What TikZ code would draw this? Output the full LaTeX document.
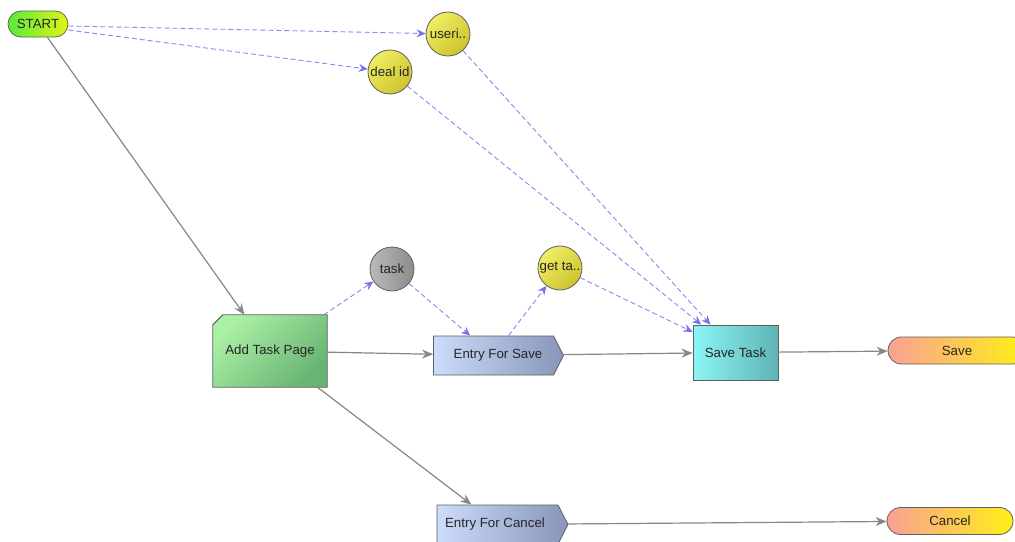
\documentclass[tikz,border=0pt]{standalone}
\usepackage{fontspec}
\setmainfont{Liberation Sans}
\usetikzlibrary{arrows.meta,shapes.symbols,shapes.misc}

\definecolor{flowgray}{RGB}{135,135,135}
\definecolor{dataline}{RGB}{115,115,240}
\definecolor{nodeborder}{RGB}{95,95,95}
\definecolor{startL}{RGB}{90,235,60}
\definecolor{startR}{RGB}{225,245,20}
\definecolor{pageA}{RGB}{170,240,165}
\definecolor{pageB}{RGB}{105,180,115}
\definecolor{entryA}{RGB}{205,220,250}
\definecolor{entryB}{RGB}{135,150,185}
\definecolor{actA}{RGB}{140,245,245}
\definecolor{actB}{RGB}{95,180,180}
\definecolor{endA}{RGB}{250,160,150}
\definecolor{endB}{RGB}{255,240,20}
\definecolor{varA}{RGB}{240,238,100}
\definecolor{varB}{RGB}{205,195,45}
\definecolor{varGrayA}{RGB}{185,185,185}
\definecolor{varGrayB}{RGB}{140,140,140}

\tikzset{
  x=1pt, y=-1pt,
  every node/.style={font=\fontsize{13.3}{15}\selectfont, text=black!85, inner sep=0pt},
  flow/.style={draw=flowgray, line width=1.2pt, -{Stealth[length=11pt,width=9pt,inset=3.5pt]}},
  data/.style={draw=dataline!85, line width=0.9pt, dash pattern=on 5pt off 3pt,
               -{Stealth[length=9pt,width=8pt,inset=3pt,color=dataline]}},
  var/.style={circle, minimum size=44pt, draw=nodeborder, line width=0.8pt,
              left color=varA, right color=varB, shading angle=45},
  vargray/.style={var, left color=varGrayA, right color=varGrayB},
  terminal/.style={rounded rectangle, draw=nodeborder, line width=0.8pt,
              minimum height=27pt, left color=endA, right color=endB},
  entry/.style={signal, signal to=east, signal pointer angle=126, draw=nodeborder,
              line width=0.8pt, minimum height=39pt, left color=entryA, right color=entryB},
  action/.style={rectangle, draw=nodeborder, line width=0.8pt,
              left color=actA, right color=actB},
}

\begin{document}
\begin{tikzpicture}
\useasboundingbox[fill=white] (0,0) rectangle (1015,541);

% start node
\node[rounded rectangle, draw=nodeborder!80!olive, line width=0.8pt,
      minimum width=60pt, minimum height=26pt,
      left color=startL, right color=startR] (start) at (38,24) {START};

% data variables
\node[var] (userid) at (448,34) {useri..};
\node[var] (dealid) at (390,72) {deal id};
\node[vargray] (task) at (392,269) {task};
\node[var] (gettask) at (560,268) {get ta..};

% page with folded corner
\node[minimum width=114pt, minimum height=72pt] (page) at (270,351) {};
\shade[left color=pageA, right color=pageB, shading angle=45, draw=nodeborder, line width=0.8pt]
  ([xshift=10pt]page.north west) -- (page.north east) -- (page.south east)
  -- (page.south west) -- ([yshift=-10pt]page.north west) -- cycle;
\draw[nodeborder, line width=0.6pt] ([yshift=-10pt]page.north west) -- ([xshift=10pt]page.north west);
\node at (page.center) {Add Task Page};

% entries
\node[entry, minimum width=130pt] (esave) at (493.5,355.5) {\hspace*{9pt}Entry For Save};
\node[entry, minimum width=131pt] (ecancel) at (497.5,524.5) {\hspace*{-5pt}Entry For Cancel};

% action
\node[action, minimum width=85pt, minimum height=55pt] (savetask) at (735.5,352.5) {Save Task};

% terminals
\node[terminal, minimum width=138pt] (save) at (957,350.5) {Save};
\node[terminal, minimum width=126pt] (cancel) at (950,521) {Cancel};

% control flow
\draw[flow] (start) -- (page);
\draw[flow] (page) -- (esave);
\draw[flow] (page) -- (ecancel);
\draw[flow] (esave) -- (savetask);
\draw[flow] (savetask) -- (save);
\draw[flow] (ecancel) -- (cancel);

% data flow
\draw[data] ([yshift=-2pt]start.east) -- (userid);
\draw[data] ([yshift=-6pt]start.east) -- (dealid);
\draw[data] (userid) -- (savetask);
\draw[data] (dealid) -- (savetask);
\draw[data] (gettask) -- (savetask);
\draw[data] (page) -- (task);
\draw[data] (task) -- (esave);
\draw[data] (esave) -- (gettask);
\end{tikzpicture}
\end{document}
